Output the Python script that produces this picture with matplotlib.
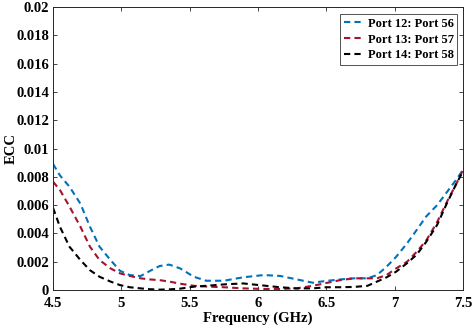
import numpy as np
import matplotlib.pyplot as plt

plt.rcParams['font.family'] = ['Liberation Serif', 'DejaVu Serif']
plt.rcParams['font.weight'] = 'bold'

# frequency samples (GHz) and ECC for each port pair
freq = [4.5, 4.55, 4.62, 4.7, 4.77, 4.84, 4.92, 4.99, 5.06, 5.14, 5.21, 5.28, 5.35, 5.43,
        5.53, 5.62, 5.75, 5.89, 6.04, 6.16, 6.28, 6.4, 6.5, 6.6, 6.7, 6.8, 6.87, 6.94, 7.01,
        7.09, 7.16, 7.23, 7.31, 7.38, 7.45, 7.5]
ecc_12_56 = [0.0089, 0.0081, 0.0073, 0.0061, 0.00447, 0.00306, 0.00212, 0.00136, 0.00106,
             0.00099, 0.00136, 0.0017, 0.0018, 0.00153, 0.00094, 0.00066, 0.00066, 0.0009,
             0.00106, 0.001, 0.00076, 0.00052, 0.00065, 0.00075, 0.00083, 0.00083, 0.00106,
             0.00165, 0.00235, 0.0033, 0.00424, 0.0052, 0.006, 0.0069, 0.0078, 0.0085]
ecc_13_57 = [0.00765, 0.00707, 0.0059, 0.00447, 0.00306, 0.00212, 0.00153, 0.00118, 0.001,
             0.00083, 0.00075, 0.0007, 0.0006, 0.00045, 0.0003, 0.00025, 0.0002, 0.00012,
             0.00008, 0.00008, 0.00012, 0.0003, 0.0005, 0.0007, 0.00083, 0.00083, 0.00083,
             0.00106, 0.00153, 0.002, 0.0027, 0.0035, 0.0048, 0.0062, 0.0075, 0.0085]
ecc_14_58 = [0.0058, 0.00447, 0.00306, 0.00212, 0.0014, 0.00094, 0.0006, 0.00035, 0.0002,
             0.00012, 0.00006, 0.00003, 0.00005, 0.0001, 0.00024, 0.0003, 0.0004, 0.00047,
             0.00032, 0.0002, 0.00012, 0.00012, 0.0002, 0.0002, 0.00022, 0.0003, 0.0006,
             0.0009, 0.0013, 0.0019, 0.0025, 0.0034, 0.0046, 0.0061, 0.0075, 0.0084]
labels = ['Port 12: Port 56', 'Port 13: Port 57', 'Port 14: Port 58']
colors = ['#0072BD', '#A2142F', '#000000']

fig = plt.figure(figsize=(4.74, 3.30), dpi=100)
ax = fig.add_axes([0.112, 0.121, 0.865, 0.858])

for y, lab, c in zip([ecc_12_56, ecc_13_57, ecc_14_58], labels, colors):
    ax.plot(freq, y, '--', color=c, lw=1.5, label=lab, dashes=(3, 2))

ax.set_xlim(4.5, 7.5)
ax.set_ylim(0, 0.02)
ax.set_xticks(np.arange(4.5, 7.51, 0.5))
ax.set_xticklabels(['4.5', '5', '5.5', '6', '6.5', '7', '7.5'])
ax.set_yticks(np.arange(0, 0.0201, 0.002))
ax.set_yticklabels(['0', '0.002', '0.004', '0.006', '0.008', '0.01', '0.012',
                    '0.014', '0.016', '0.018', '0.02'])
ax.tick_params(direction='in', top=True, right=True, labelsize=10.5, length=3, width=0.6,
               colors='#262626', labelcolor='black')
ax.tick_params(axis='x', pad=5)
ax.tick_params(axis='y', pad=3)
for s in ax.spines.values():
    s.set_linewidth(0.7)
    s.set_color('#262626')

ax.set_xlabel('Frequency (GHz)', fontsize=10.5, fontweight='bold', labelpad=1)
ax.set_ylabel('ECC', fontsize=10.5, fontweight='bold', labelpad=-1)

leg = ax.legend(loc='upper right', fontsize=9, handlelength=1.5, handletextpad=0.4,
                borderpad=0.3, labelspacing=0.3, fancybox=False, edgecolor='#262626',
                bbox_to_anchor=(0.986, 0.975), borderaxespad=0)
leg.get_frame().set_linewidth(0.7)

fig.savefig('out.png', dpi=100)
